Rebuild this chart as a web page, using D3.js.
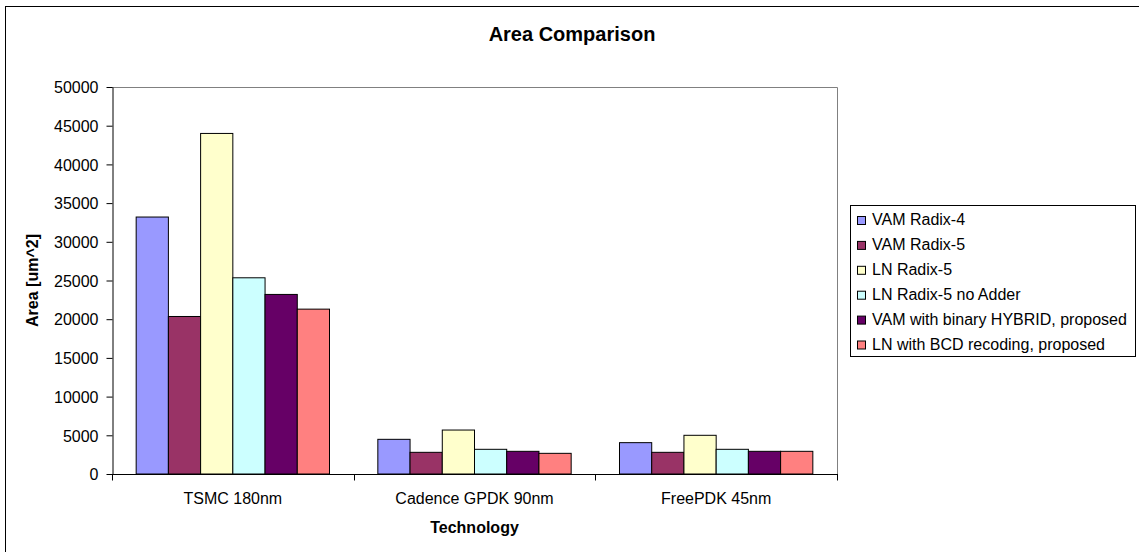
<!DOCTYPE html>
<html>
<head>
<meta charset="utf-8">
<script src="https://cdn.jsdelivr.net/npm/d3@7"></script>
<style>
  body { margin: 0; background: #fff; }
  text { font-family: Arial, "Liberation Sans", sans-serif; fill: #000; }
</style>
</head>
<body>
<div id="chart"></div>
<script>
// chart data
var technologies = ["TSMC 180nm", "Cadence GPDK 90nm", "FreePDK 45nm"];
var seriesNames = ["VAM Radix-4", "VAM Radix-5", "LN Radix-5", "LN Radix-5 no Adder",
                   "VAM with binary HYBRID, proposed", "LN with BCD recoding, proposed"];
var seriesColors = ["#9999FF", "#993366", "#FFFFCC", "#CCFFFF", "#660066", "#FF8080"];
var vamRadix4   = [33200, 4480, 4050];
var vamRadix5   = [20350, 2800, 2800];
var lnRadix5    = [44000, 5680, 5000];
var lnNoAdder   = [25350, 3190, 3190];
var vamHybrid   = [23200, 2930, 2930];
var lnBcd       = [21300, 2670, 2930];
var yTicks = [0, 5000, 10000, 15000, 20000, 25000, 30000, 35000, 40000, 45000, 50000];

var allSeries = [vamRadix4, vamRadix5, lnRadix5, lnNoAdder, vamHybrid, lnBcd];

var width = 1139, height = 552,
    plot = {left: 112, right: 837, top: 87, bottom: 474};

var svg = d3.select("#chart").append("svg")
  .attr("width", width).attr("height", height);

// outer frame (cropped on the right and bottom)
svg.append("rect")
  .attr("x", 5.5).attr("y", 6.5)
  .attr("width", 1140).attr("height", 560)
  .style("fill", "#fff").style("stroke", "#000").style("stroke-width", 1);

svg.append("text")
  .attr("x", 572).attr("y", 41)
  .attr("text-anchor", "middle")
  .style("font-size", "20px").style("font-weight", "bold")
  .text("Area Comparison");

var x0 = d3.scaleBand().domain(technologies).range([plot.left, plot.right]).padding(0);
var x1 = d3.scaleBand().domain(d3.range(seriesNames.length))
  .range([0, x0.bandwidth()]).paddingInner(0).paddingOuter(0.75);
var y = d3.scaleLinear().domain([0, 50000]).range([plot.bottom, plot.top]);

// plot area border (top / right)
svg.append("path")
  .attr("d", "M" + plot.left + "," + (plot.top + 0.5) + "H" + (plot.right + 0.5) + "V" + plot.bottom)
  .style("fill", "none").style("stroke", "#808080");

// bars
var groups = svg.selectAll("g.tech")
  .data(technologies).enter().append("g")
  .attr("class", "tech")
  .attr("transform", function(d){ return "translate(" + x0(d) + ",0)"; });

groups.selectAll("rect")
  .data(function(d, i){
    return allSeries.map(function(s, j){ return {s: j, v: s[i]}; });
  })
  .enter().append("rect")
  .attr("x", function(d){ return x1(d.s); })
  .attr("y", function(d){ return y(d.v); })
  .attr("width", x1.bandwidth())
  .attr("height", function(d){ return plot.bottom - y(d.v); })
  .style("fill", function(d){ return seriesColors[d.s]; })
  .style("stroke", "#000").style("stroke-width", 1);

// y axis
var yAxis = svg.append("g")
  .attr("transform", "translate(" + (plot.left + 0.5) + ",0)")
  .call(d3.axisLeft(y).tickValues(yTicks).tickSize(6).tickSizeOuter(0).tickPadding(8)
    .tickFormat(d3.format("d")));
yAxis.selectAll("text")
  .attr("dy", "0.36em")
  .style("font-size", "16px").style("font-family", "Arial, 'Liberation Sans', sans-serif");
yAxis.select(".domain").style("stroke", "#000");

// x axis with ticks between categories
var xAxis = svg.append("g")
  .attr("transform", "translate(0," + (plot.bottom + 0.5) + ")");
xAxis.append("line")
  .attr("x1", plot.left).attr("x2", plot.right + 1)
  .style("stroke", "#000");
xAxis.selectAll("line.tick")
  .data(technologies.concat(["end"])).enter().append("line")
  .attr("class", "tick")
  .attr("x1", function(d, i){ return Math.round(plot.left + i * x0.step()) + 0.5; })
  .attr("x2", function(d, i){ return Math.round(plot.left + i * x0.step()) + 0.5; })
  .attr("y1", 0).attr("y2", 6)
  .style("stroke", "#000");
xAxis.selectAll("text")
  .data(technologies).enter().append("text")
  .attr("x", function(d){ return x0(d) + x0.bandwidth() / 2; })
  .attr("y", 29)
  .attr("text-anchor", "middle")
  .style("font-size", "16px")
  .text(function(d){ return d; });

svg.append("text")
  .attr("x", (plot.left + plot.right) / 2).attr("y", 533)
  .attr("text-anchor", "middle")
  .style("font-size", "16px").style("font-weight", "bold")
  .text("Technology");

svg.append("text")
  .attr("transform", "translate(38," + ((plot.top + plot.bottom) / 2) + ") rotate(-90)")
  .attr("text-anchor", "middle")
  .style("font-size", "16px").style("font-weight", "bold")
  .text("Area [um^2]");

// legend
var legend = svg.append("g").attr("transform", "translate(850,205)");
legend.append("rect")
  .attr("x", 0.5).attr("y", 0.5).attr("width", 285).attr("height", 151)
  .style("fill", "#fff").style("stroke", "#000");
var items = legend.selectAll("g.item")
  .data(seriesNames).enter().append("g")
  .attr("class", "item")
  .attr("transform", function(d, i){ return "translate(0," + (20 + i * 24.9) + ")"; });
items.append("rect")
  .attr("x", 7.5).attr("y", -8.5).attr("width", 8).attr("height", 8)
  .style("fill", function(d, i){ return seriesColors[i]; })
  .style("stroke", "#000");
items.append("text")
  .attr("x", 22).attr("y", 0)
  .style("font-size", "16px")
  .text(function(d){ return d; });
</script>
</body>
</html>
